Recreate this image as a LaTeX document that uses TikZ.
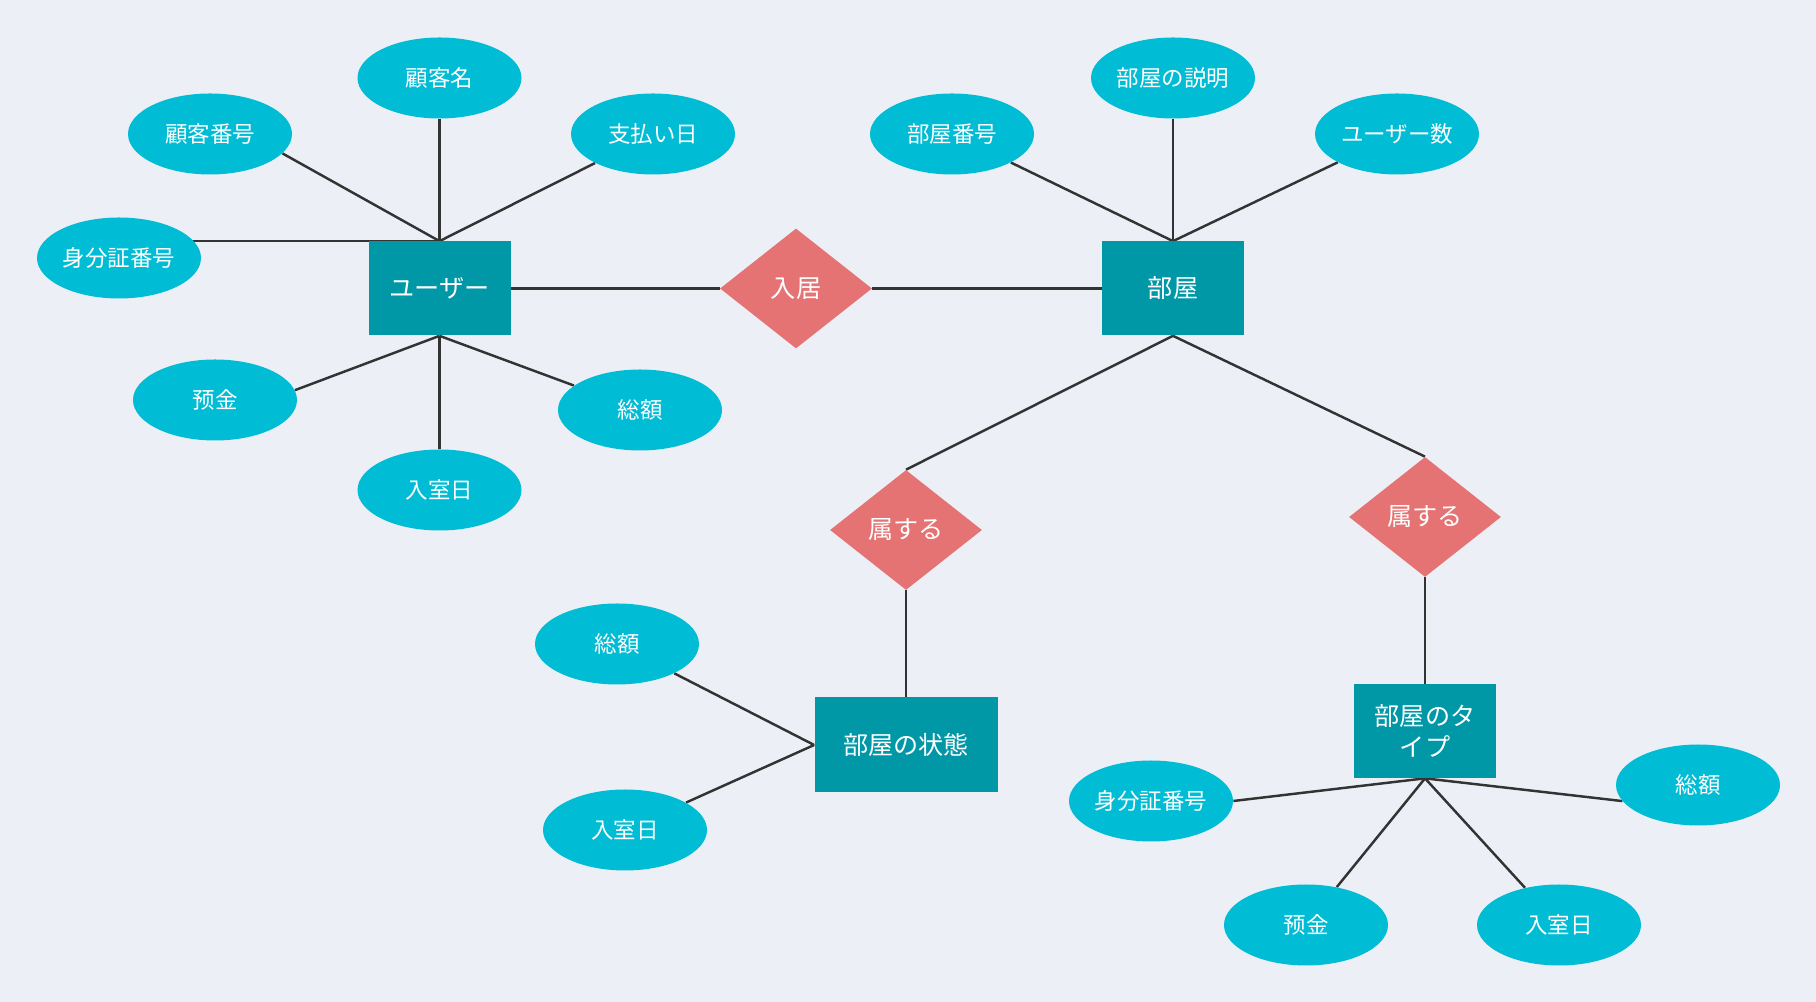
\documentclass[tikz,border=0pt]{standalone}
\usepackage{fontspec}
\setmainfont{Noto Sans CJK JP}
\usepackage{tikz}
\usetikzlibrary{shapes.geometric,positioning,backgrounds}
\definecolor{pagebg}{HTML}{ECF0F6}
\definecolor{entteal}{HTML}{0097A7}
\definecolor{attrcyan}{HTML}{00BCD4}
\definecolor{relred}{HTML}{E57373}
\definecolor{linkgray}{HTML}{333333}
\tikzset{
  ent/.style={rectangle,minimum width=2.84cm,minimum height=1.88cm,
    fill=entteal,text=white,font=\fontsize{14.3}{18}\selectfont,
    align=center,inner sep=2pt},
  attr/.style={ellipse,minimum width=3.28cm,minimum height=1.62cm,inner sep=0pt,
    fill=attrcyan,text=white,font=\fontsize{12.8}{15}\selectfont},
  rel/.style={diamond,minimum width=3.04cm,minimum height=2.4cm,inner sep=0pt,
    fill=relred,text=white,font=\fontsize{14.3}{18}\selectfont},
  link/.style={draw=linkgray,line width=1.4pt},
}

\begin{document}
\begin{tikzpicture}
  % entities and relations
  \node[ent] (user) at (8.79,14.27) {ユーザー};
  \node[rel] (nyukyo) at (15.92,14.27) {入居};
  \node[ent] (heya) at (23.46,14.27) {部屋};
  \node[rel] (belongA) at (18.12,9.44) {属する};
  \node[rel] (belongB) at (28.50,9.70) {属する};
  \node[ent,minimum width=3.66cm,minimum height=1.9cm] (state) at (18.12,5.14) {部屋の状態};
  \node[ent] (rtype) at (28.50,5.42) {部屋のタ\\イプ};
  % user attributes
  \node[attr] (kname) at (8.79,18.48) {顧客名};
  \node[attr] (kno) at (4.20,17.36) {顧客番号};
  \node[attr] (payday) at (13.06,17.36) {支払い日};
  \node[attr] (idno) at (2.38,14.88) {身分証番号};
  \node[attr] (deposit) at (4.30,12.04) {预金};
  \node[attr] (indate) at (8.79,10.24) {入室日};
  \node[attr] (total) at (12.80,11.84) {総額};
  % room attributes
  \node[attr] (rdesc) at (23.46,18.48) {部屋の説明};
  \node[attr] (rno) at (19.04,17.36) {部屋番号};
  \node[attr] (ucount) at (27.94,17.36) {ユーザー数};
  % state attributes
  \node[attr] (stotal) at (12.34,7.16) {総額};
  \node[attr] (sindate) at (12.50,3.44) {入室日};
  % type attributes
  \node[attr] (tidno) at (23.02,4.02) {身分証番号};
  \node[attr] (ttotal) at (33.96,4.34) {総額};
  \node[attr] (tdeposit) at (26.12,1.54) {预金};
  \node[attr] (tindate) at (31.18,1.54) {入室日};
  \begin{scope}[on background layer]
    \fill[pagebg] (0,0) rectangle (36.32,20.04);
    \draw[link] (user.north) -- (kname);
    \draw[link] (user.north) -- (kno.-15);
    \draw[link] (user.north) -- (payday);
    \draw[link] (user.north) -- (user.north -| idno);
    \draw[link] (user.south) -- (deposit.7);
    \draw[link] (user.south) -- (indate);
    \draw[link] (user.south) -- (total);
    \draw[link] (user.east) -- (nyukyo.west);
    \draw[link] (nyukyo.east) -- (heya.west);
    \draw[link] (heya.north) -- (rno);
    \draw[link] (heya.north) -- (rdesc);
    \draw[link] (heya.north) -- (ucount);
    \draw[link] (heya.south) -- (belongA.north);
    \draw[link] (heya.south) -- (belongB.north);
    \draw[link] (belongA.south) -- (state.north);
    \draw[link] (belongB.south) -- (rtype.north);
    \draw[link] (state.west) -- (stotal);
    \draw[link] (state.west) -- (sindate);
    \draw[link] (rtype.south) -- (tidno.east);
    \draw[link] (rtype.south) -- (ttotal.192);
    \draw[link] (rtype.south) -- (tdeposit);
    \draw[link] (rtype.south) -- (tindate);
  \end{scope}
\end{tikzpicture}
\end{document}
